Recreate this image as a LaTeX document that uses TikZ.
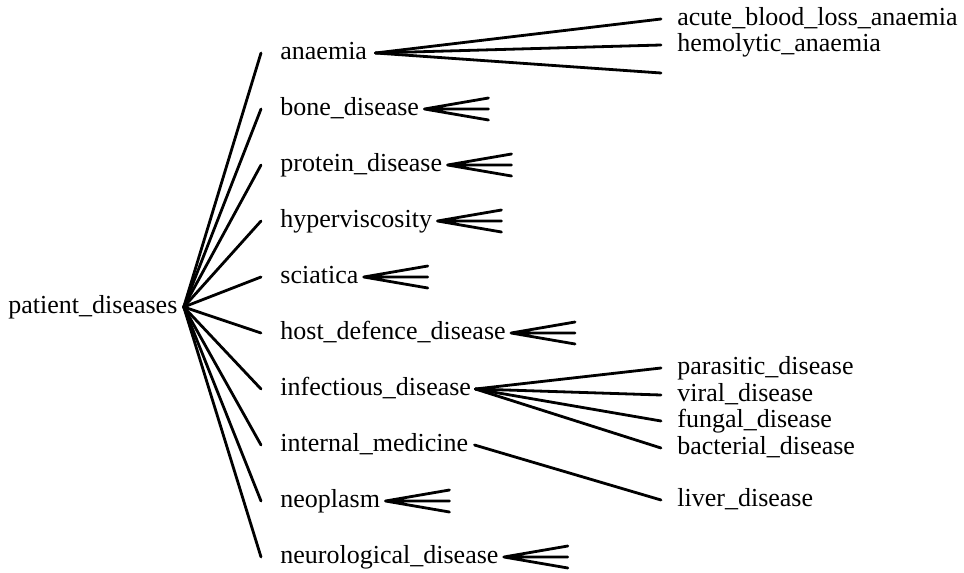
\documentclass[tikz,border=0pt]{standalone}
\usepackage{fontspec}
\setmainfont{Liberation Serif}
\usepackage{tikz}
\usetikzlibrary{positioning, calc}

\begin{document}
\begin{tikzpicture}[
                x=0.5pt, y=-0.5pt,
                term/.style={anchor=west, inner sep=0pt, text height=0.8em, text depth=0.18em, font=\fontsize{13}{15}\selectfont},
                line/.style={draw, -, line width=1.4pt, line cap=round}
            ]
            \useasboundingbox (0,0) rectangle (964,573);

            % Root
            \node[term] (patient) at (8,307) {patient\_diseases};

            % First level
            \node[term] (anaemia) at (280,53) {anaemia};
            \node[term] (bone) at (280,109) {bone\_disease};
            \node[term] (protein) at (280,165) {protein\_disease};
            \node[term] (hyper) at (280,221) {hyperviscosity};
            \node[term] (sciatica) at (280,277) {sciatica};
            \node[term] (host) at (280,333) {host\_defence\_disease};
            \node[term] (infectious) at (280,389) {infectious\_disease};
            \node[term] (internal) at (280,445) {internal\_medicine};
            \node[term] (neoplasm) at (280,501) {neoplasm};
            \node[term] (neuro) at (280,557) {neurological\_disease};

            % Second level
            \node[term] (acute) at (677,19) {acute\_blood\_loss\_anaemia};
            \node[term] (hemolytic) at (677,45) {hemolytic\_anaemia};
            \coordinate (anaemia3) at (661,73);
            \node[term] (parasitic) at (677,368) {parasitic\_disease};
            \node[term] (viral) at (677,395) {viral\_disease};
            \node[term] (fungal) at (677,421) {fungal\_disease};
            \node[term] (bacterial) at (677,448) {bacterial\_disease};
            \node[term] (liver) at (677,500) {liver\_disease};

            % Root connections
            \foreach \n in {anaemia,bone,protein,hyper,sciatica,host,infectious,internal,neoplasm,neuro}
                \draw[line] ([xshift=3pt]patient.east) -- ([xshift=-9.5pt]\n.west);

            % Expanded branches
            \draw[line] ([xshift=4pt]anaemia.east) -- ([xshift=-8pt]acute.west);
            \draw[line] ([xshift=4pt]anaemia.east) -- ([xshift=-8pt]hemolytic.west);
            \draw[line] ([xshift=4pt]anaemia.east) -- (anaemia3);

            \draw[line] ([xshift=2pt]infectious.east) -- ([xshift=-8pt]parasitic.west);
            \draw[line] ([xshift=2pt]infectious.east) -- ([xshift=-8pt]viral.west);
            \draw[line] ([xshift=2pt]infectious.east) -- ([xshift=-8pt]fungal.west);
            \draw[line] ([xshift=2pt]infectious.east) -- ([xshift=-8pt]bacterial.west);

            \draw[line] ([xshift=3pt]internal.east) -- ([xshift=-8pt]liver.west);

            % Collapsed branches
            \foreach \n in {bone,protein,hyper,sciatica,host,neoplasm,neuro}
                \draw[line] ([xshift=2.5pt]\n.east) -- ++(64,-11)
                            ([xshift=2.5pt]\n.east) -- ++(64,0)
                            ([xshift=2.5pt]\n.east) -- ++(64,11);
        \end{tikzpicture}
\end{document}
